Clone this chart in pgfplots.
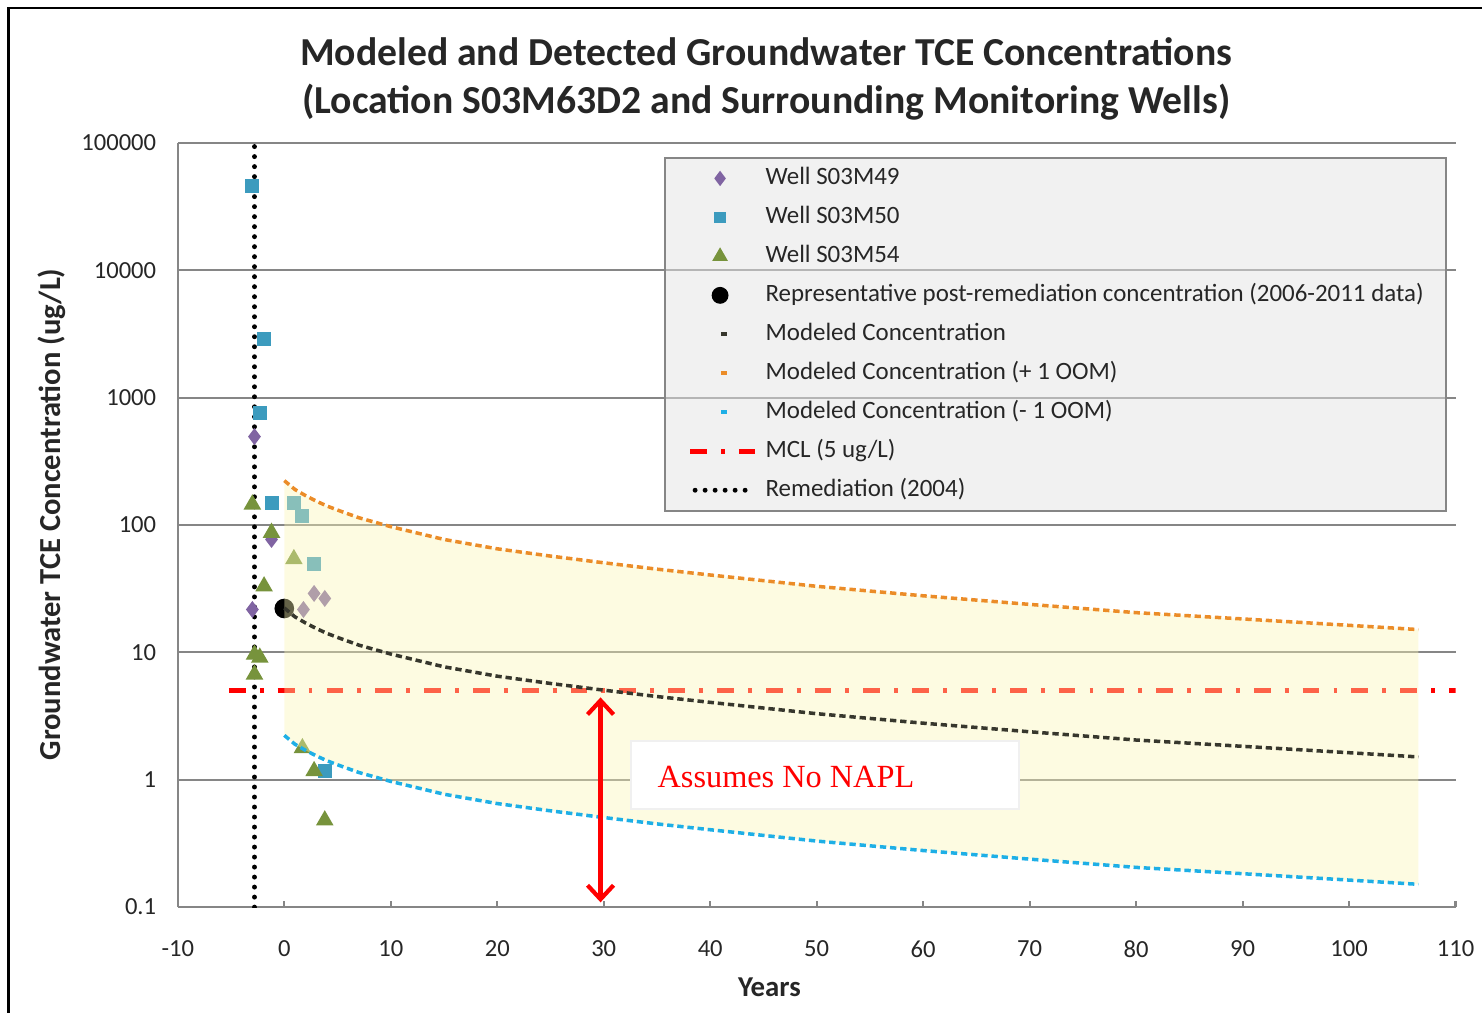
\documentclass[border=0pt]{standalone}
\usepackage{fontspec}
\setmainfont{Carlito}
\newfontfamily\timesfont{Liberation Serif}
\usepackage{pgfplots}
\pgfplotsset{compat=1.18}
\usepackage{pgfplotstable}
\usetikzlibrary{arrows.meta}

\definecolor{gridgray}{RGB}{134,134,134}
\definecolor{wellpurple}{RGB}{128,100,162}
\definecolor{wellteal}{RGB}{60,155,190}
\definecolor{wellgreen}{RGB}{119,147,60}
\definecolor{modelorange}{RGB}{235,140,40}
\definecolor{modelblue}{RGB}{30,175,230}
\definecolor{modeldark}{RGB}{55,55,45}
\definecolor{shade}{RGB}{250,245,180}
\definecolor{legendfill}{RGB}{228,228,228}

% wells: years, ug/L
\pgfplotstableread{
yr c
-2.8 494
-1.2 77
-3.0 21.7
1.8 21.7
2.8 29
3.8 26.5
}\wellA
\pgfplotstableread{
yr c
-3.0 46000
-1.9 2900
-2.3 760
-1.2 148
0.9 150
1.7 117
2.8 49
3.8 1.17
}\wellB
\pgfplotstableread{
yr c
-3.0 145
-1.2 87
-1.9 33
-2.8 9.6
-2.3 9.1
-2.8 6.7
0.9 54
1.7 1.77
2.8 1.17
3.8 0.48
}\wellC
% modeled concentration and +/- 1 OOM
\pgfplotstableread{
yr hi mid lo
0 223 22.3 2.23
1 190 19.0 1.90
2 170 17.0 1.70
3 154 15.4 1.54
4 141 14.1 1.41
5 131 13.1 1.31
7 114 11.4 1.14
10 97 9.7 0.97
15 77 7.7 0.77
20 65 6.5 0.65
25 57 5.7 0.57
30 50.5 5.05 0.505
35 45 4.5 0.45
40 40.5 4.05 0.405
50 33 3.3 0.33
60 27.8 2.78 0.278
70 23.8 2.38 0.238
80 20.5 2.05 0.205
90 18.3 1.83 0.183
100 16.3 1.63 0.163
106.5 15.1 1.51 0.151
}\model

\begin{document}
\begin{tikzpicture}
\path (0,0) rectangle (14.83,10.14);
\begin{axis}[
  scale only axis,
  width=12.79cm, height=7.65cm,
  at={(1.78cm,1.06cm)}, anchor=south west,
  clip mode=individual,
  xmin=-10, xmax=110,
  ymode=log, ymin=0.1, ymax=100000,
  axis lines*=left,
  axis line style={draw=gridgray, line width=0.6pt, -},
  xtick={-10,0,...,110},
  ytick={0.1,1,10,100,1000,10000,100000},
  yticklabels={0.1,1,10,100,1000,10000,100000},
  tick align=inside,
  major tick length=1.8pt,
  xtick style={draw=gridgray, line width=0.6pt},
  ytick style={draw=none},
  ymajorgrids,
  grid style={draw=gridgray, line width=0.6pt},
  /pgf/number format/assume math mode=true,
  ticklabel style={font=\fontsize{7}{8.4}\selectfont, text=black!85, inner sep=0pt},
  xticklabel style={anchor=center, yshift=-4.2mm},
  yticklabel style={anchor=east, xshift=-2.1mm},
  xlabel={Years},
  xlabel style={at={(axis description cs:0.463,-0.1046)}, anchor=center,
    font=\bfseries\fontsize{8.2}{9.8}\selectfont, text=black!85},
  ylabel={Groundwater TCE Concentration (ug/L)},
  ylabel style={at={(axis description cs:-0.0985,0.5137)}, anchor=center, rotate=0,
    font=\bfseries\fontsize{8.7}{10.4}\selectfont, text=black!85},
  title={Modeled and Detected Groundwater TCE Concentrations\\(Location S03M63D2 and Surrounding Monitoring Wells)},
  title style={at={(axis description cs:0.4605,1.0562)}, anchor=center, align=center,
    font=\bfseries\fontsize{11.3}{13.7}\selectfont, text=black!85},
  legend style={
    at={(axis description cs:0.9937,0.9817)}, anchor=north east,
    fill=legendfill, fill opacity=0.5, text opacity=1, draw opacity=1,
    draw=gridgray, line width=0.6pt,
    inner xsep=6.5pt, inner ysep=2.6pt,
    row sep=4.6pt, column sep=2.3pt,
    font=\fontsize{7.1}{8.5}\selectfont,
    nodes={inner sep=0pt, text height=5pt, text depth=1.5pt, text=black!85},
    cells={anchor=west},
  },
]
% legend entries
\addlegendimage{only marks, mark=diamond*, mark size=1.7pt, color=wellpurple, opacity=1}
\addlegendentry{Well S03M49}
\addlegendimage{only marks, mark=square*, mark size=1.3pt, color=wellteal, opacity=1}
\addlegendentry{Well S03M50}
\addlegendimage{only marks, mark=triangle*, mark size=2pt, color=wellgreen, opacity=1}
\addlegendentry{Well S03M54}
\addlegendimage{only marks, mark=*, mark size=2.1pt, color=black, opacity=1}
\addlegendentry{Representative post-remediation concentration (2006-2011 data)}
\addlegendimage{legend image code/.code={\draw[opacity=1, line width=1.1pt, draw=modeldark] (0.31cm,0cm) -- (0.37cm,0cm);}}
\addlegendentry{Modeled Concentration}
\addlegendimage{legend image code/.code={\draw[opacity=1, line width=1.1pt, draw=modelorange] (0.31cm,0cm) -- (0.37cm,0cm);}}
\addlegendentry{Modeled Concentration (+ 1 OOM)}
\addlegendimage{legend image code/.code={\draw[opacity=1, line width=1.1pt, draw=modelblue] (0.31cm,0cm) -- (0.37cm,0cm);}}
\addlegendentry{Modeled Concentration (- 1 OOM)}
\addlegendimage{legend image code/.code={\draw[opacity=1, line width=1.4pt, draw=red, dash pattern=on 4.8pt off 4pt on 1.1pt off 4pt] (0cm,0cm) -- (0.65cm,0cm);}}
\addlegendentry{MCL (5 ug/L)}
\addlegendimage{legend image code/.code={\draw[opacity=1, line width=1.4pt, draw=black, line cap=round, dash pattern=on 0pt off 2.85pt] (0.05cm,0cm) -- (0.65cm,0cm);}}
\addlegendentry{Remediation (2004)}

% MCL and remediation
\addplot[forget plot, red, line width=1.3pt, dash pattern=on 4.8pt off 4pt on 1.1pt off 4pt]
  coordinates {(-5.2,5) (110,5)};
\addplot[forget plot, black, line width=1.4pt, line cap=round, dash pattern=on 0pt off 2.85pt]
  coordinates {(-2.8,0.1) (-2.8,100000)};

% detected concentrations
\addplot[forget plot, only marks, mark=diamond*, mark size=2.1pt, color=wellpurple] table[x=yr, y=c] {\wellA};
\addplot[forget plot, only marks, mark=square*, mark size=1.8pt, color=wellteal] table[x=yr, y=c] {\wellB};
\addplot[forget plot, only marks, mark=triangle*, mark size=2.5pt, color=wellgreen] table[x=yr, y=c] {\wellC};
\addplot[forget plot, only marks, mark=*, mark size=2.6pt, color=black] coordinates {(0,22.1)};

% model band (+1 OOM forward, -1 OOM back), laid over the points
\addplot[forget plot, fill=shade, fill opacity=0.4, draw=none] coordinates {
  (0,223) (1,190) (2,170) (3,154) (4,141) (5,131) (7,114) (10,97) (15,77)
  (20,65) (25,57) (30,50.5) (35,45) (40,40.5) (50,33) (60,27.8) (70,23.8)
  (80,20.5) (90,18.3) (100,16.3) (106.5,15.1)
  (106.5,0.151) (100,0.163) (90,0.183) (80,0.205) (70,0.238) (60,0.278)
  (50,0.33) (40,0.405) (35,0.45) (30,0.505) (25,0.57) (20,0.65) (15,0.77)
  (10,0.97) (7,1.14) (5,1.31) (4,1.41) (3,1.54) (2,1.70) (1,1.90) (0,2.23)
} -- cycle;

\addplot[forget plot, modelorange, line width=1pt, dash pattern=on 1.8pt off 1.1pt] table[x=yr, y=hi] {\model};
\addplot[forget plot, modeldark, line width=1pt, dash pattern=on 1.8pt off 1.1pt] table[x=yr, y=mid] {\model};
\addplot[forget plot, modelblue, line width=1pt, dash pattern=on 1.8pt off 1.1pt] table[x=yr, y=lo] {\model};

% annotation
\draw[red, line width=1.2pt, {Straight Barb[length=1.4mm,width=2.6mm]}-{Straight Barb[length=1.4mm,width=2.6mm]}]
  (axis cs:29.7,4.43) -- (axis cs:29.7,0.109);
\draw[draw=black!6, line width=0.6pt, fill=white] (axis cs:32.6,2.0) rectangle (axis cs:69,0.587);
\node[anchor=west, text=red, font=\timesfont\fontsize{9.2}{11}\selectfont, inner sep=0pt]
  at (axis cs:35,1.05) {Assumes No NAPL};
\end{axis}
\draw[line width=0.85pt] (0.09,0) -- (0.09,10.06) -- (14.83,10.06);
\useasboundingbox (0,0) rectangle (14.83,10.14);
\end{tikzpicture}
\end{document}
